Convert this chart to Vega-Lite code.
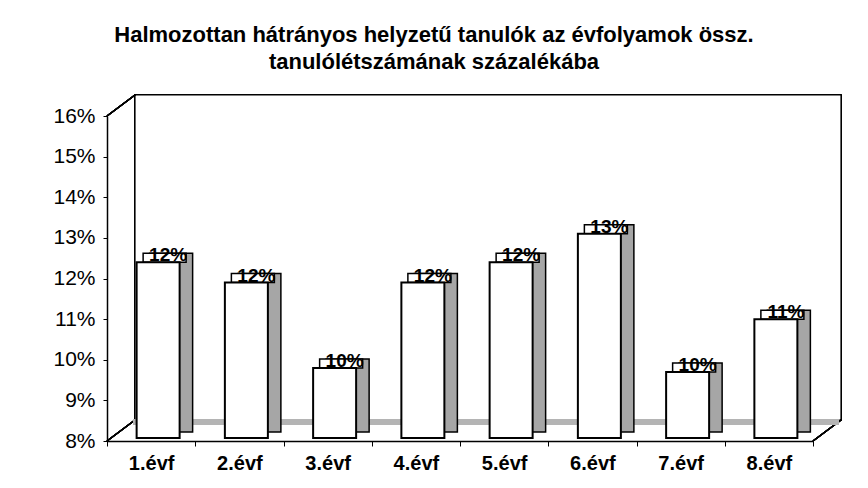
{
  "$schema": "https://vega.github.io/schema/vega-lite/v6.json",
  "width": 706,
  "height": 325,
  "autosize": {"type": "none"},
  "padding": {"left": 107, "top": 116, "right": 55, "bottom": 47},
  "background": "white",
  "config": {
    "font": "Liberation Sans",
    "view": {"stroke": null}
  },
  "title": {
    "text": ["Halmozottan hátrányos helyzetű tanulók az évfolyamok össz.", "tanulólétszámának százalékába"],
    "font": "Liberation Sans",
    "fontSize": 22,
    "fontWeight": "bold",
    "color": "black",
    "lineHeight": 27,
    "anchor": "middle",
    "frame": "group",
    "dx": -26,
    "offset": 20
  },
  "data": {
    "values": [
      {"evf": "1.évf", "v": 12.4, "label": "12%"},
      {"evf": "2.évf", "v": 11.9, "label": "12%"},
      {"evf": "3.évf", "v": 9.8, "label": "10%"},
      {"evf": "4.évf", "v": 11.9, "label": "12%"},
      {"evf": "5.évf", "v": 12.4, "label": "12%"},
      {"evf": "6.évf", "v": 13.1, "label": "13%"},
      {"evf": "7.évf", "v": 9.7, "label": "10%"},
      {"evf": "8.évf", "v": 11.0, "label": "11%"}
    ]
  },
  "encoding": {
    "x": {
      "field": "evf",
      "type": "nominal",
      "sort": null,
      "scale": {"paddingInner": 0, "paddingOuter": 0},
      "axis": {
        "title": null,
        "labelAngle": 0,
        "labelFont": "Liberation Sans",
        "labelFontSize": 20,
        "labelFontWeight": "bold",
        "labelColor": "black",
        "labelPadding": 7,
        "tickBand": "extent",
        "tickSize": 5,
        "tickColor": "black",
        "domainColor": "black",
        "domainWidth": 1.5,
        "grid": false
      }
    }
  },
  "layer": [
    {
      "mark": {"type": "rect", "fill": "white", "stroke": "black", "strokeWidth": 1.2, "xOffset": 28, "x2Offset": 28, "yOffset": -21, "y2Offset": -21},
      "encoding": {
        "x": {"value": 0},
        "x2": {"value": 706},
        "y": {"datum": 8, "type": "quantitative"},
        "y2": {"datum": 16}
      }
    },
    {
      "mark": {"type": "rule", "color": "black", "strokeWidth": 1.2, "x2Offset": 28, "y2Offset": -21},
      "encoding": {
        "x": {"value": 0},
        "x2": {"value": 0},
        "y": {"datum": 8, "type": "quantitative"},
        "y2": {"datum": 8}
      }
    },
    {
      "mark": {"type": "rule", "color": "black", "strokeWidth": 1.2, "x2Offset": 28, "y2Offset": -21},
      "encoding": {
        "x": {"value": 0},
        "x2": {"value": 0},
        "y": {"datum": 16, "type": "quantitative"},
        "y2": {"datum": 16}
      }
    },
    {
      "mark": {"type": "rule", "color": "black", "strokeWidth": 1.2, "x2Offset": 28, "y2Offset": -21},
      "encoding": {
        "x": {"value": 706},
        "x2": {"value": 706},
        "y": {"datum": 8, "type": "quantitative"},
        "y2": {"datum": 8}
      }
    },
    {
      "mark": {"type": "rule", "color": "#b4b4b4", "strokeWidth": 6, "yOffset": -19, "xOffset": 26, "x2Offset": 26},
      "encoding": {
        "x": {"value": 0},
        "x2": {"value": 706},
        "y": {"datum": 8, "type": "quantitative"}
      }
    },
    {
      "mark": {"type": "bar", "size": 43, "fill": "#a6a6a6", "stroke": "black", "strokeWidth": 1.5, "xOffset": 20, "yOffset": -9, "y2Offset": -9},
      "encoding": {
        "y": {"field": "v", "type": "quantitative"},
        "y2": {"datum": 8}
      }
    },
    {
      "mark": {"type": "tick", "size": 43, "thickness": 9, "fill": "white", "stroke": "black", "strokeWidth": 1.5, "opacity": 1, "xOffset": 13.5, "yOffset": -4.5},
      "encoding": {
        "y": {"field": "v", "type": "quantitative"}
      }
    },
    {
      "mark": {"type": "bar", "size": 43, "fill": "white", "stroke": "black", "strokeWidth": 2, "xOffset": 7, "y2Offset": -3},
      "encoding": {
        "y": {
          "field": "v",
          "type": "quantitative",
          "scale": {"domain": [8, 16], "zero": false, "nice": false},
          "axis": {
            "title": null,
            "values": [8, 9, 10, 11, 12, 13, 14, 15, 16],
            "labelExpr": "datum.value + '%'",
            "labelFont": "Liberation Sans",
            "labelFontSize": 21,
            "labelColor": "black",
            "labelPadding": 8,
            "tickSize": 4,
            "tickColor": "black",
            "domainColor": "black",
            "domainWidth": 1.5,
            "grid": false
          }
        },
        "y2": {"datum": 8}
      }
    },
    {
      "mark": {"type": "text", "font": "Liberation Sans", "fontSize": 19, "fontWeight": "bold", "color": "black", "dx": 17, "dy": -7, "baseline": "middle"},
      "encoding": {
        "y": {"field": "v", "type": "quantitative"},
        "text": {"field": "label"}
      }
    }
  ]
}
